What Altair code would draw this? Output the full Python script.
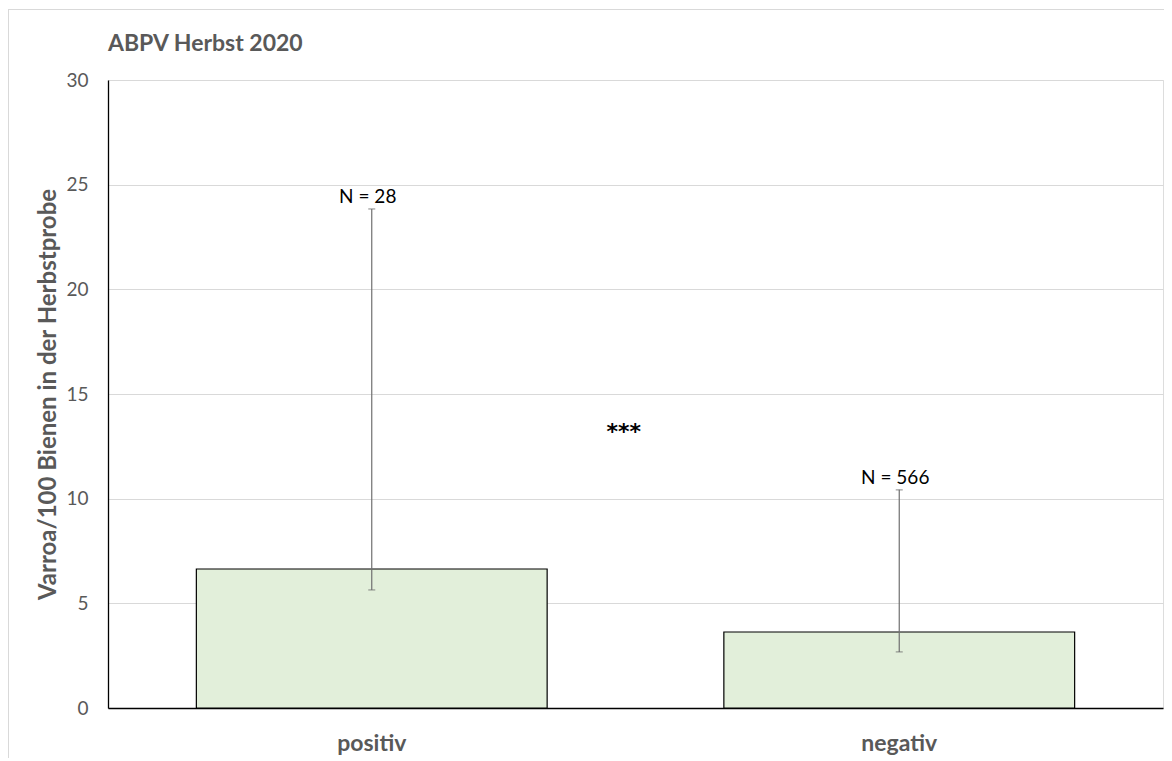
import altair as alt
import pandas as pd

categories = ["positiv", "negativ"]
means = [6.64, 3.63]
err_low = [5.64, 2.68]
err_high = [23.84, 10.42]
n_labels = ["N = 28", "N = 566"]
sig_text = ["***"]
sig_y = [13.2]
title_text = ["ABPV Herbst 2020"]

df = pd.DataFrame({
    "cat": categories,
    "mean": means,
    "lo": err_low,
    "hi": err_high,
    "n": n_labels,
})
sig_df = pd.DataFrame({"txt": sig_text, "y": sig_y, "cat": ["negativ"]})
title_df = pd.DataFrame({"txt": title_text})

FONT = "Lato"
GRAY = "#595959"
W, H = 1055, 628
PAD_L, PAD_T = 100, 72

x_enc = alt.X(
    "cat:N",
    sort=categories,
    scale=alt.Scale(paddingInner=0.335, paddingOuter=0.1675),
    axis=alt.Axis(
        title=None, labelAngle=0, labelFontSize=23, labelFontWeight="bold",
        labelColor=GRAY, labelFont=FONT, labelPadding=24, ticks=False,
        domainColor="#000000", domainWidth=1.3, grid=False,
    ),
)

y_scale = alt.Scale(domain=[0, 30], nice=False)

base = alt.Chart(df)

bars = base.mark_bar(
    color="#e2efda", stroke="#000000", strokeWidth=1.2
).encode(
    x=x_enc,
    y=alt.Y(
        "mean:Q", scale=y_scale,
        axis=alt.Axis(
            title="Varroa/100 Bienen in der Herbstprobe",
            titleFontSize=24, titleFontWeight="bold", titleColor=GRAY,
            titleFont=FONT, titleX=-60, titleY=H / 2, titleBaseline="middle",
            titleAlign="center", titleAngle=-90,
            values=[0, 5, 10, 15, 20, 25, 30], labelFontSize=19,
            labelColor=GRAY, labelFont=FONT, labelPadding=20, ticks=False,
            domainColor="#000000", domainWidth=1.3,
            gridColor="#d9d9d9", gridWidth=1,
        ),
    ),
)

err = base.mark_rule(color="#6f6f6f", strokeWidth=1.2).encode(
    x=alt.X("cat:N", sort=categories), y="lo:Q", y2="hi:Q"
)
cap_lo = base.mark_tick(color="#6f6f6f", thickness=1.2, size=7, orient="horizontal").encode(
    x=alt.X("cat:N", sort=categories), y="lo:Q"
)
cap_hi = base.mark_tick(color="#6f6f6f", thickness=1.2, size=7, orient="horizontal").encode(
    x=alt.X("cat:N", sort=categories), y="hi:Q"
)
nlab = base.mark_text(
    font=FONT, fontSize=19, color="#000000", baseline="bottom", dy=-2, dx=-4
).encode(
    x=alt.X("cat:N", sort=categories), y="hi:Q", text="n:N"
)
sig = alt.Chart(sig_df).mark_text(
    font="DejaVu Sans", fontSize=22, fontWeight="bold", color="#000000",
    dx=-100, baseline="middle"
).encode(
    x=alt.X("cat:N", sort=categories, bandPosition=0), y="y:Q", text="txt:N"
)

# chart title, drawn as a text mark so the frame lines do not push it away
title = alt.Chart(title_df).mark_text(
    font=FONT, fontSize=23, fontWeight="bold", color=GRAY,
    align="left", baseline="alphabetic"
).encode(x=alt.value(0), y=alt.value(-29), text="txt:N")

# light frame around the whole chart area (decorative)
frame_top = alt.Chart(title_df).mark_rule(color="#d9d9d9", strokeWidth=1).encode(
    x=alt.value(-PAD_L), x2=alt.value(W + 10), y=alt.value(-PAD_T + 1.5)
)
frame_left = alt.Chart(title_df).mark_rule(color="#d9d9d9", strokeWidth=1).encode(
    x=alt.value(-PAD_L + 0.5), y=alt.value(-PAD_T + 1), y2=alt.value(H + 60)
)

chart = alt.layer(frame_top, frame_left, bars, err, cap_lo, cap_hi, nlab, sig, title).properties(
    width=W,
    height=H,
    autosize=alt.AutoSizeParams(type="none"),
    padding={"left": PAD_L, "top": PAD_T, "right": 1, "bottom": 50},
).configure_view(stroke=None).configure(background="white")

chart.save("out.html", embed_options={"renderer": "svg", "actions": False})
